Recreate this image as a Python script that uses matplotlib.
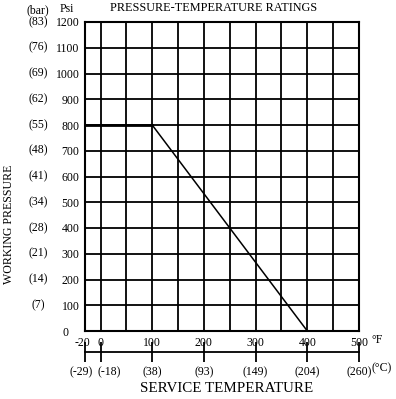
import matplotlib
matplotlib.use("Agg")
import matplotlib.pyplot as plt
from matplotlib.transforms import ScaledTranslation

plt.rcParams['font.family'] = ['Liberation Serif', 'DejaVu Serif']

# rating curve (deg F, psi)
temp_f = [-30, 100, 400]
pressure_psi = [800, 800, 0]

psi_ticks = [0, 100, 200, 300, 400, 500, 600, 700, 800, 900, 1000, 1100, 1200]
bar_labels = ["(7)", "(14)", "(21)", "(28)", "(34)", "(41)", "(48)",
              "(55)", "(62)", "(69)", "(76)", "(83)"]
f_ticks = [-30, 0, 100, 200, 300, 400, 500]
f_labels = ["-20", "0", "100", "200", "300", "400", "500"]
c_labels = ["(-29)", "(-18)", "(38)", "(93)", "(149)", "(204)", "(260)"]
grid_f = [0, 50, 100, 150, 200, 250, 300, 350, 400, 450]

FS = 8.5

fig = plt.figure(figsize=(3.96, 3.99), dpi=100)
ax = fig.add_axes([85 / 396, 68 / 399, 274 / 396, 309 / 399])
ax.set_xlim(-30, 500)
ax.set_ylim(0, 1200)


def shift(label, px):
    label.set_transform(label.get_transform() + ScaledTranslation(px / 100, 0, fig.dpi_scale_trans))


for g in grid_f:
    ax.axvline(g, color="black", lw=1.3)
for p in psi_ticks[1:-1]:
    ax.axhline(p, color="black", lw=1.3)

ax.plot(temp_f[:2], pressure_psi[:2], color="black", lw=2.0)
ax.plot(temp_f[1:], pressure_psi[1:], color="black", lw=1.1)

for s in ax.spines.values():
    s.set_linewidth(1.5)

ax.set_yticks(psi_ticks)
ax.set_yticklabels([str(p) for p in psi_ticks], fontsize=FS)
ax.set_xticks(f_ticks)
ax.set_xticklabels(f_labels, fontsize=FS)
ax.tick_params(length=0, pad=4)
shift(ax.get_yticklabels()[0], -11)
shift(ax.get_xticklabels()[0], -3)

# bar labels
for p, lab in zip(psi_ticks[1:], bar_labels):
    ax.text(-0.172, p, lab, transform=ax.get_yaxis_transform(),
            ha="center", va="center", fontsize=FS)
fig.text(38 / 396, 1 - 10 / 399, "(bar)", ha="center", va="center", fontsize=FS)
fig.text(60 / 396, 1 - 9 / 399, "Psi", ha="left", va="center", fontsize=FS)
fig.text(371 / 396, 1 - 340 / 399, "\u00b0F", ha="left", va="center", fontsize=FS)

fig.text(214 / 396, 1 - 8 / 399, "PRESSURE-TEMPERATURE RATINGS", ha="center", va="center", fontsize=8.8)
fig.text(9 / 396, 175 / 399 + 0.0, "WORKING PRESSURE", rotation=90, ha="center", va="center", fontsize=8.6)

# celsius scale
axc = fig.add_axes([85 / 396, 47 / 399, 274 / 396, 0.0001])
axc.set_xlim(-30, 500)
for s in ["top", "left", "right"]:
    axc.spines[s].set_visible(False)
axc.spines["bottom"].set_linewidth(1.3)
axc.set_yticks([])
axc.set_xticks(f_ticks)
axc.set_xticklabels(c_labels, fontsize=FS)
axc.tick_params(axis="x", direction="inout", length=14, width=1.3, pad=3)
shift(axc.get_xticklabels()[0], -4)
shift(axc.get_xticklabels()[1], 9)
fig.text(372 / 396, 1 - 368 / 399, "(\u00b0C)", ha="left", va="center", fontsize=FS)
fig.text(227 / 396, 1 - 389 / 399, "SERVICE TEMPERATURE", ha="center", va="center", fontsize=10.8)

fig.savefig("out.png", dpi=100)
